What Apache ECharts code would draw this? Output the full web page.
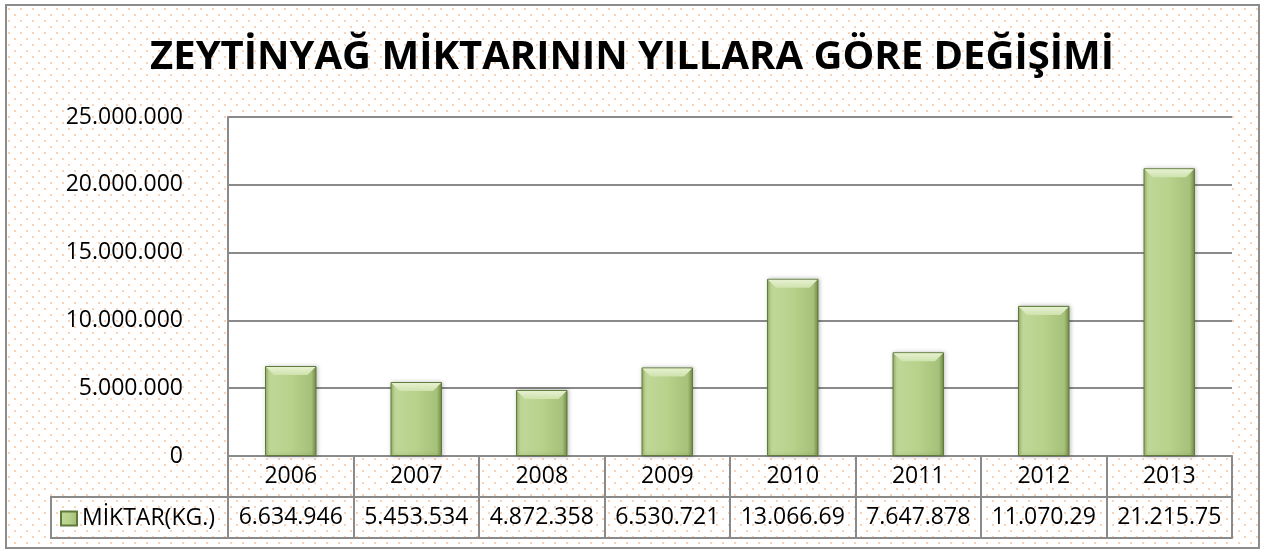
<!DOCTYPE html>
<html>
<head>
<meta charset="utf-8">
<script src="https://cdn.jsdelivr.net/npm/echarts@6/dist/echarts.min.js"></script>
<style>
	html, body { margin: 0; padding: 0; background: #fff; }
	#chart { width: 1264px; height: 552px; }
</style>
</head>
<body>
<div id="chart"></div>
<script>
// chart data
var years = ['2006', '2007', '2008', '2009', '2010', '2011', '2012', '2013'];
var amounts = [6634946, 5453534, 4872358, 6530721, 13066690, 7647878, 11070290, 21215750];
// the data table shows these strings (some are cut off in the source)
var tableLabels = ['6.634.946', '5.453.534', '4.872.358', '6.530.721', '13.066.69', '7.647.878', '11.070.29', '21.215.75'];
var seriesName = 'MİKTAR(KG.)';
var yMin = 0, yMax = 25000000, yStep = 5000000;

var font = 'Open Sans';
var lineColor = '#8a8a8a';
var barRatio = 0.41;

// dotted background like the excel pattern fill
function makePattern(){
	var c = document.createElement('canvas');
	c.width = 12; c.height = 12;
	var ctx = c.getContext('2d');
	ctx.fillStyle = '#ffffff';
	ctx.fillRect(0, 0, 12, 12);
	var dots = [[2, 2], [8, 8]];
	for(var i = 0; i < dots.length; i++){
		ctx.fillStyle = '#fad2b6';
		ctx.fillRect(dots[i][0], dots[i][1], 2, 2);
	}
	return c;
}

function dotted(v){
	return String(v).replace(/\B(?=(\d{3})+(?!\d))/g, '.');
}

var barColor = new echarts.graphic.LinearGradient(0, 0, 1, 0, [
	{offset: 0, color: '#95b265'},
	{offset: 0.08, color: '#c0d898'},
	{offset: 0.5, color: '#b8d18b'},
	{offset: 0.9, color: '#a6c179'},
	{offset: 1, color: '#728d49'}
]);

var gridLeft = 228, gridTop = 117, gridRight = 32, gridBottom = 96;
var rowH = 41;

// light bevel on top of each bar
function renderBevel(params, api){
	var top = api.coord([api.value(0), api.value(1)]);
	var w = api.size([1, 0])[0] * barRatio;
	var x0 = top[0] - w / 2, x1 = top[0] + w / 2, y = top[1];
	var b = 9;
	return {
		type: 'polygon',
		shape: {points: [[x0 + 1, y + 1], [x1 - 1, y + 1], [x1 - b, y + b], [x0 + b, y + b]]},
		style: {
			fill: new echarts.graphic.LinearGradient(0, 0, 0, 1, [
				{offset: 0, color: '#e6f1d0'},
				{offset: 1, color: '#cfe2ad'}
			])
		}
	};
}

var option = {
	animation: false,
	backgroundColor: '#ffffff',
	textStyle: {fontFamily: font},
	title: {
		text: 'ZEYTİNYAĞ MİKTARININ YILLARA GÖRE DEĞİŞİMİ',
		left: 'center',
		top: 28,
		textStyle: {fontFamily: font, fontSize: 40, fontWeight: 'bold', color: '#000', lineHeight: 50}
	},
	legend: {
		data: [seriesName],
		left: 60,
		top: 507,
		padding: 0,
		itemWidth: 16,
		itemHeight: 14,
		icon: 'rect',
		textStyle: {fontFamily: font, fontSize: 23, color: '#000'}
	},
	graphic: [
		{
			type: 'rect',
			z: -10,
			shape: {x: 6, y: 5, width: 1253, height: 543},
			style: {fill: {image: makePattern(), repeat: 'repeat'}, stroke: '#8c8c8c', lineWidth: 2}
		},
		{
			// legend key cell of the data table
			type: 'rect',
			shape: {x: 51, y: 552 - gridBottom + rowH, width: gridLeft - 51, height: rowH},
			style: {fill: 'none', stroke: lineColor, lineWidth: 2}
		}
	],
	grid: {
		left: gridLeft, top: gridTop, right: gridRight, bottom: gridBottom,
		show: true, backgroundColor: '#ffffff', borderWidth: 0
	},
	xAxis: [
		{
			type: 'category',
			data: years,
			position: 'bottom',
			axisLine: {lineStyle: {color: lineColor, width: 2}},
			axisTick: {show: true, interval: 0, length: rowH * 2, lineStyle: {color: lineColor, width: 2}},
			axisLabel: {fontFamily: font, fontSize: 23, color: '#000', margin: 8, lineHeight: 24}
		},
		{
			type: 'category',
			data: tableLabels,
			position: 'bottom',
			offset: rowH,
			axisLine: {lineStyle: {color: lineColor, width: 2}},
			axisTick: {show: false},
			axisLabel: {fontFamily: font, fontSize: 23, color: '#000', margin: 8, lineHeight: 24, interval: 0}
		},
		{
			type: 'category',
			data: years,
			position: 'bottom',
			offset: rowH * 2,
			axisLine: {lineStyle: {color: lineColor, width: 2}},
			axisTick: {show: false},
			axisLabel: {show: false}
		}
	],
	yAxis: {
		type: 'value',
		min: yMin,
		max: yMax,
		interval: yStep,
		axisLine: {show: true, lineStyle: {color: lineColor, width: 2}},
		axisTick: {show: false},
		splitLine: {lineStyle: {color: lineColor, width: 2}},
		axisLabel: {
			fontFamily: font, fontSize: 23, color: '#000', margin: 45,
			formatter: function(v){ return dotted(v); }
		}
	},
	series: [
		{
			name: seriesName,
			type: 'bar',
			xAxisIndex: 0,
			data: amounts,
			barWidth: (barRatio * 100) + '%',
			itemStyle: {
				color: barColor,
				borderColor: '#5f7a3a',
				borderWidth: 1,
				shadowColor: 'rgba(0,0,0,0.25)',
				shadowBlur: 4,
				shadowOffsetX: 1
			}
		},
		{
			name: 'bevel',
			type: 'custom',
			xAxisIndex: 0,
			silent: true,
			z: 3,
			data: amounts.map(function(v, i){ return [i, v]; }),
			renderItem: renderBevel
		}
	]
};

var myChart = echarts.init(document.getElementById('chart'));
myChart.setOption(option);
</script>
</body>
</html>
